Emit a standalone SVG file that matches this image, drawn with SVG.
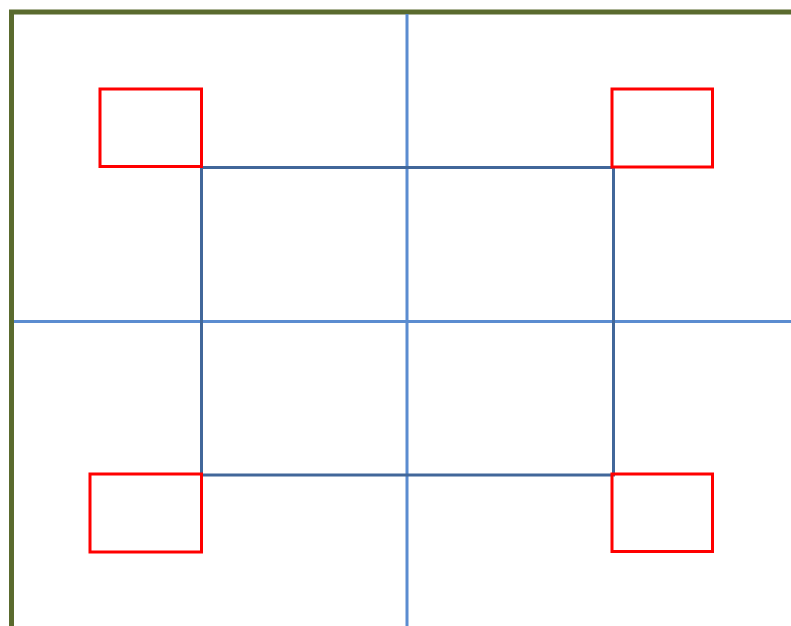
<svg xmlns="http://www.w3.org/2000/svg" width="791" height="626" viewBox="0 0 791 626">
<style>
.frame{fill:none;stroke:#5a6b2e;stroke-width:5}
.axis{fill:none;stroke:#5b8cd0;stroke-width:3}
.inner{fill:none;stroke:#41679a;stroke-width:3}
.box{fill:none;stroke:#ff0000;stroke-width:3}
</style>
<rect width="791" height="626" fill="#ffffff"/>
<g id="frame"><path class="frame" d="M11.5,626 V12 H791"/></g>
<g id="connectors">
<line class="axis" x1="14" y1="321.5" x2="791" y2="321.5"/>
<line class="axis" x1="407" y1="14" x2="407" y2="626"/>
<rect class="inner" x="201.5" y="167.5" width="412" height="307.5"/>
</g>
<g id="box-tl"><rect class="box" x="100" y="89" width="101.5" height="77.5"/></g>
<g id="box-tr"><rect class="box" x="612" y="89" width="100.5" height="78"/></g>
<g id="box-bl"><rect class="box" x="90" y="474" width="111.5" height="78"/></g>
<g id="box-br"><rect class="box" x="612" y="474" width="100.5" height="77.5"/></g>
</svg>
